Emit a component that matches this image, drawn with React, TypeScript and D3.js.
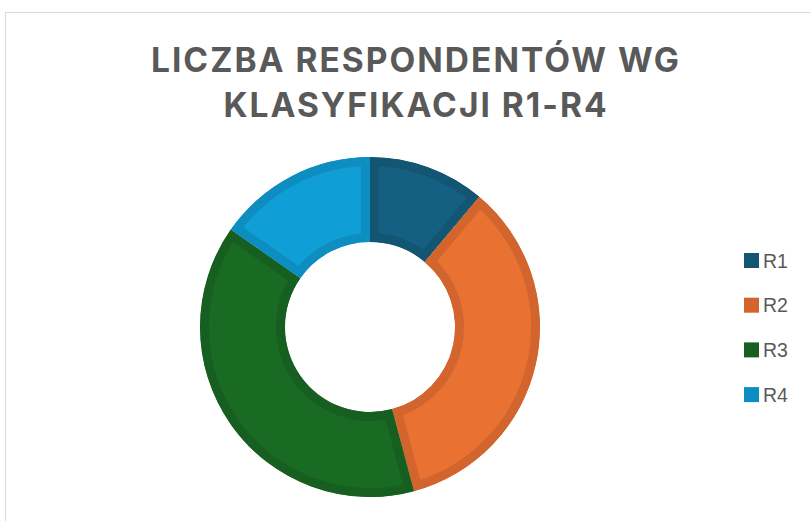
import { useEffect, useRef } from 'react';
import * as d3 from 'd3';

const categories = ['R1', 'R2', 'R3', 'R4'];
const values = [8, 25, 28, 11];
const fills = ['#156082', '#E97132', '#196B24', '#0F9ED5'];
const edges = ['#125674', '#D1652D', '#175F21', '#0E8EC0'];
const titleLines = ['LICZBA RESPONDENTÓW WG', 'KLASYFIKACJI R1-R4'];

const App = () => {
  const svgRef = useRef<SVGSVGElement | null>(null);

  useEffect(() => {
    if (!svgRef.current) return;
    const svg = d3.select(svgRef.current);
    svg.selectAll('*').remove();

    // chart frame
    svg.append('rect')
      .attr('x', 5.5).attr('y', 12.5)
      .attr('width', 830).attr('height', 540)
      .attr('fill', 'white')
      .attr('stroke', '#d9d9d9');

    // title
    svg.append('text')
      .attr('x', 415)
      .attr('text-anchor', 'middle')
      .attr('font-family', 'Inter, sans-serif')
      .attr('font-weight', 700)
      .attr('font-size', 33.5)
      .attr('letter-spacing', 2.0)
      .attr('fill', '#595959')
      .selectAll('tspan')
      .data(titleLines)
      .join('tspan')
      .attr('x', 416)
      .attr('y', (_, i) => 72 + i * 45)
      .text(d => d);

    const cx = 370, cy = 327, outerR = 170, innerR = 85;
    const pie = d3.pie<number>().sort(null).value(d => d);
    const arc = d3.arc<d3.PieArcDatum<number>>().innerRadius(innerR).outerRadius(outerR);
    const arcs = pie(values);

    const defs = svg.append('defs');
    arcs.forEach((a, i) => {
      defs.append('clipPath').attr('id', `slice-clip-${i}`)
        .append('path').attr('d', arc(a) as string);
    });

    const g = svg.append('g').attr('transform', `translate(${cx},${cy})`);
    g.selectAll('path.slice')
      .data(arcs)
      .join('path')
      .attr('class', 'slice')
      .attr('d', d => arc(d) as string)
      .attr('clip-path', (_, i) => `url(#slice-clip-${i})`)
      .attr('fill', (_, i) => fills[i])
      .attr('stroke', (_, i) => edges[i])
      .attr('stroke-width', 18)
      .attr('stroke-linejoin', 'miter');

    // legend
    const legend = svg.append('g')
      .attr('font-family', 'Liberation Sans, Arial, sans-serif')
      .attr('font-size', 19.5)
      .attr('fill', '#595959');
    const row = legend.selectAll('g')
      .data(categories)
      .join('g')
      .attr('transform', (_, i) => `translate(744,${260.5 + i * 44.7})`);
    row.append('rect')
      .attr('x', 0).attr('y', -7.5)
      .attr('width', 15).attr('height', 15)
      .attr('fill', (_, i) => edges[i]);
    row.append('text')
      .attr('x', 19).attr('y', 7)
      .text(d => d);
  }, []);

  return (
    <svg ref={svgRef} width={810} height={521}
      style={{ position: 'absolute', left: 0, top: 0, display: 'block' }} />
  );
};

export default App;
